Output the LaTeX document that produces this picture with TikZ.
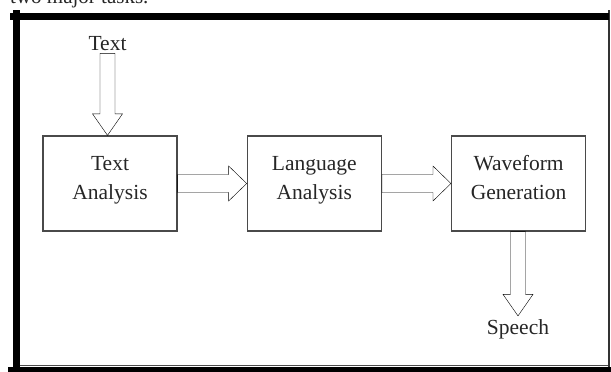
\documentclass[tikz,border=0pt]{standalone}
\usepackage{fontspec}
\setmainfont{Liberation Serif}
\usetikzlibrary{positioning,calc}

\definecolor{boxgray}{HTML}{4A4A4A}
\definecolor{arrgray}{HTML}{5E5E5E}
\tikzset{
  stage/.style={draw=boxgray, line width=1.3pt, minimum width=134pt, minimum height=95pt,
    inner sep=0pt, align=center, text height=44pt, text depth=12pt,
    font=\fontsize{21.5}{29.5}\selectfont, text=black!85},
  lbl/.style={inner sep=3pt, font=\fontsize{21.5}{26}\selectfont, text=black!85},
  hollow/.style={draw=arrgray, line width=1.1pt, line join=miter},
  rarrow/.style={hollow, to path={let \p1=(\tikztostart), \p2=(\tikztotarget) in
    (\x1,\y1+9pt) -- (\x2-18pt,\y1+9pt) -- (\x2-18pt,\y1+17.5pt) -- (\x2,\y1)
    -- (\x2-18pt,\y1-17.5pt) -- (\x2-18pt,\y1-9pt) -- (\x1,\y1-9pt) -- cycle}},
  darrow/.style={hollow, to path={let \p1=(\tikztostart), \p2=(\tikztotarget) in
    (\x1-7.5pt,\y1) -- (\x1-7.5pt,\y2+21.5pt) -- (\x1-15pt,\y2+21.5pt) -- (\x1,\y2)
    -- (\x1+15pt,\y2+21.5pt) -- (\x1+7.5pt,\y2+21.5pt) -- (\x1+7.5pt,\y1) -- cycle}}
}

\begin{document}
\begin{tikzpicture}[x=1pt,y=-1pt]
\useasboundingbox (0,0) rectangle (611,372);
% page text cut off above the figure
\begin{scope}
\clip (0,0) rectangle (611,372);
\node[anchor=base west, inner sep=0pt, font=\fontsize{21}{26}\selectfont, text=black!85] (cut) at (10,4) {two major tasks.};
\end{scope}
% frame
\draw[black!70, line width=0.8pt] (20,365) -- (609,365);
\draw[black!80, line width=1.4pt] (609,10) -- (609,372);
\fill[black] (13,10) rectangle (20,372);
\fill[black] (10,13) rectangle (609,20);
\fill[black] (8,366.5) rectangle (611,372);

\node[stage] (ta) at (110,183.5) {Text\\Analysis};
\node[stage, right=69pt of ta] (la) {Language\\Analysis};
\node[stage, right=69pt of la] (wg) {Waveform\\Generation};
\node[lbl, anchor=base] (tx) at (107.5,50) {Text};
\node[lbl, anchor=base] (sp) at (518,334) {Speech};

\draw (tx.south) to[darrow] (tx.south |- ta.north);
\draw (ta.east) to[rarrow] (la.west);
\draw (la.east) to[rarrow] (wg.west);
\draw (wg.south -| sp.north) to[darrow] (sp.north);
\end{tikzpicture}
\end{document}
